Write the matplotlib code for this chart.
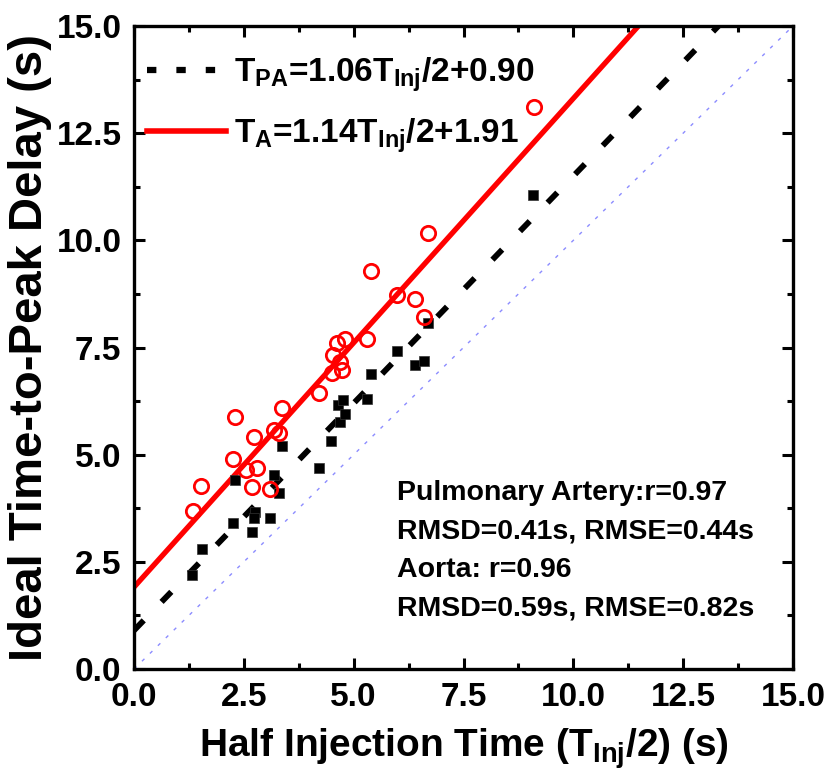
import matplotlib
matplotlib.use("Agg")
import matplotlib.pyplot as plt
from matplotlib.lines import Line2D
import numpy as np

plt.rcParams['font.family'] = ['Liberation Sans', 'DejaVu Sans']
plt.rcParams['font.weight'] = 'bold'
plt.rcParams['axes.labelweight'] = 'bold'
plt.rcParams['mathtext.fontset'] = 'custom'
plt.rcParams['mathtext.rm'] = 'Liberation Sans:bold'
plt.rcParams['mathtext.it'] = 'Liberation Sans:bold'
plt.rcParams['mathtext.bf'] = 'Liberation Sans:bold'
plt.rcParams['mathtext.default'] = 'rm'

# pulmonary artery: half injection time vs ideal time-to-peak delay (s)
pa_x = [1.31, 1.54, 2.26, 2.69, 2.75, 2.73, 3.10, 2.30, 3.19, 3.30, 3.38, 4.20,
        4.49, 4.65, 4.76, 4.69, 4.80, 5.30, 5.39, 5.99, 6.40, 6.60, 6.70, 9.09]
pa_y = [2.19, 2.79, 3.41, 3.19, 3.66, 3.52, 3.52, 4.41, 4.53, 4.11, 5.21, 4.70,
        5.32, 6.16, 6.27, 5.77, 5.96, 6.29, 6.88, 7.42, 7.09, 7.19, 8.06, 11.06]

# aorta
ao_x = [1.35, 1.53, 2.25, 2.29, 2.56, 2.69, 2.73, 2.79, 3.10, 3.19, 3.30, 3.38,
        4.20, 4.50, 4.54, 4.61, 4.70, 4.73, 4.80, 5.30, 5.39, 5.99, 6.40, 6.59,
        6.70, 9.11]
ao_y = [3.69, 4.28, 4.90, 5.89, 4.64, 4.25, 5.42, 4.70, 4.20, 5.58, 5.50, 6.08,
        6.43, 6.90, 7.32, 7.61, 7.17, 6.97, 7.69, 7.69, 9.29, 8.72, 8.63, 8.22,
        10.18, 13.10]

# linear fits
pa_slope, pa_icpt = 1.06, 0.90
ao_slope, ao_icpt = 1.14, 1.91

ticks = [0.0, 2.5, 5.0, 7.5, 10.0, 12.5, 15.0]
stats = ["Pulmonary Artery:r=0.97",
         "RMSD=0.41s, RMSE=0.44s",
         "Aorta: r=0.96",
         "RMSD=0.59s, RMSE=0.82s"]

fig = plt.figure(figsize=(8.31, 7.80), dpi=100)
ax = fig.add_axes([134 / 831, 111 / 780, 659 / 831, 643 / 780])

xx = np.array([0.0, 15.0])

# identity line
ax.plot(xx, xx, color='#8c8cff', lw=1.0, linestyle=(0, (2.5, 5.5)), zorder=1)

ax.plot(xx, pa_slope * xx + pa_icpt, color='black', lw=4.2,
        linestyle=(0, (2.4, 4.4)), dash_capstyle='butt', zorder=2)
ax.plot(xx, ao_slope * xx + ao_icpt, color='#ff0000', lw=3.8, zorder=2)

ax.plot(pa_x, pa_y, 's', color='black', ms=7.2, mew=0.5, mec='#333333',
        zorder=3)
ax.plot(ao_x, ao_y, 'o', mfc='none', mec='#ff0000', ms=10.3, mew=2.0,
        zorder=4)

ax.set_xlim(0, 15)
ax.set_ylim(0, 15)
ax.set_xticks(ticks)
ax.set_yticks(ticks)
ax.set_xticks(np.arange(1.25, 15, 2.5), minor=True)
ax.set_yticks(np.arange(1.25, 15, 2.5), minor=True)
ax.set_xticklabels([f"{t:.1f}" for t in ticks])
ax.set_yticklabels([f"{t:.1f}" for t in ticks])
ax.tick_params(which='both', direction='in', top=True, right=True,
               width=2.2, labelsize=24)
ax.tick_params(which='major', length=8, pad=9)
ax.tick_params(which='minor', length=4.5)
for sp in ax.spines.values():
    sp.set_linewidth(2.4)

ax.set_xlabel(r"Half Injection Time ($T_{Inj}$/2) (s)", fontsize=28,
              labelpad=10)
ax.set_ylabel("Ideal Time-to-Peak Delay (s)", fontsize=34, labelpad=3)

handles = [Line2D([], [], color='black', lw=4.5, linestyle=(0, (1.5, 3.2)),
                  dash_capstyle='butt'),
           Line2D([], [], color='#ff0000', lw=4.0)]
labels = [r"$T_{PA}$=1.06$T_{Inj}$/2+0.90",
          r"$T_A$=1.14$T_{Inj}$/2+1.91"]
ax.legend(handles, labels, loc='upper left', bbox_to_anchor=(0.0, 0.975),
          frameon=False, fontsize=24, handlelength=2.35, handletextpad=0.25,
          labelspacing=0.68, borderaxespad=0.3, borderpad=0.1)

ax.text(5.99, 4.42, "\n".join(stats), fontsize=20.5, fontweight='bold',
        va='top', ha='left', linespacing=1.63)

fig.savefig("out.png", dpi=100)
